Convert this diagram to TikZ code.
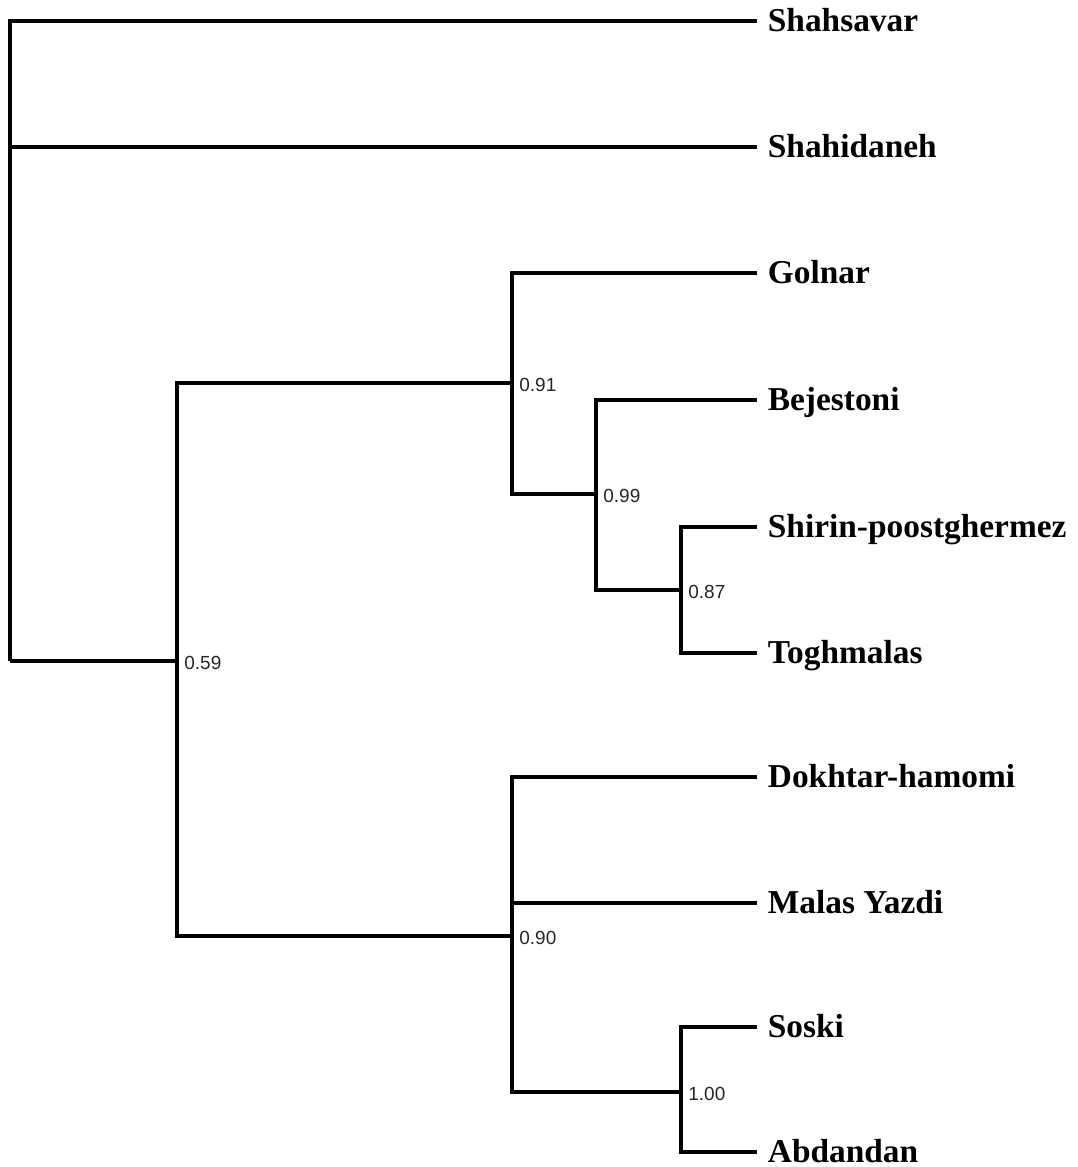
\documentclass[tikz,border=0pt]{standalone}
\usepackage{fontspec}
\setmainfont{Liberation Serif}
\newfontfamily\suppfont{Liberation Sans}
\begin{document}
\begin{tikzpicture}[x=0.02cm,y=-0.02cm,
	branch/.style={line width=2.1pt,line join=miter},
	leaf/.style={anchor=west,inner xsep=6pt,inner ysep=0pt,text height=11.4pt,text depth=0pt,font=\fontsize{19}{22}\selectfont\bfseries},
	support/.style={anchor=west,inner xsep=4pt,inner ysep=0pt,text height=7.7pt,text depth=0pt,text=black!85,font=\suppfont\fontsize{10.8}{13}\selectfont}]
	\useasboundingbox (0,0) rectangle (1078,1167);
	% internal nodes
	\coordinate (root) at (10,661);
	\coordinate (n59) at (177,661);
	\coordinate (n91) at (512,383);
	\coordinate (n99) at (596,494);
	\coordinate (n87) at (681,590);
	\coordinate (n90) at (512,936);
	\coordinate (n100) at (681,1092);
	% leaves
	\node[leaf] (shahsavar) at (757,21) {Shahsavar};
	\node[leaf] (shahidaneh) at (757,147) {Shahidaneh};
	\node[leaf] (golnar) at (757,273) {Golnar};
	\node[leaf] (bejestoni) at (757,400) {Bejestoni};
	\node[leaf] (shirin) at (757,527) {Shirin-poostghermez};
	\node[leaf] (toghmalas) at (757,653) {Toghmalas};
	\node[leaf] (dokhtar) at (757,777) {Dokhtar-hamomi};
	\node[leaf] (malas) at (757,903) {Malas Yazdi};
	\node[leaf] (soski) at (757,1027) {Soski};
	\node[leaf] (abdandan) at (757,1152) {Abdandan};
	% branches
	\draw[branch] (root) |- (shahsavar);
	\draw[branch] (root) |- (shahidaneh);
	\draw[branch] (root) -- (n59);
	\draw[branch] (n59) |- (n91);
	\draw[branch] (n59) |- (n90);
	\draw[branch] (n91) |- (golnar);
	\draw[branch] (n91) |- (n99);
	\draw[branch] (n99) |- (bejestoni);
	\draw[branch] (n99) |- (n87);
	\draw[branch] (n87) |- (shirin);
	\draw[branch] (n87) |- (toghmalas);
	\draw[branch] (n90) |- (dokhtar);
	\draw[branch] (n90) |- (malas);
	\draw[branch] (n90) |- (n100);
	\draw[branch] (n100) |- (soski);
	\draw[branch] (n100) |- (abdandan);
	% support values
	\node[support] (s59) at ([yshift=-1pt]n59) {0.59};
	\node[support] (s91) at ([yshift=-1pt]n91) {0.91};
	\node[support] (s99) at ([yshift=-1pt]n99) {0.99};
	\node[support] (s87) at ([yshift=-1pt]n87) {0.87};
	\node[support] (s90) at ([yshift=-1pt]n90) {0.90};
	\node[support] (s100) at ([yshift=-1pt]n100) {1.00};
\end{tikzpicture}
\end{document}
